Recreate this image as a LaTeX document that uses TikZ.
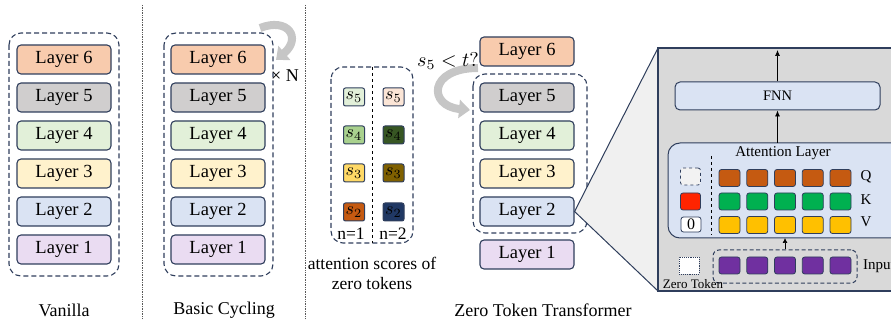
\documentclass[tikz,border=0pt]{standalone}
\usepackage{graphicx}
\usepackage{fontspec}
\setmainfont{Liberation Serif}
\usetikzlibrary{arrows.meta}
\definecolor{navy}{HTML}{2F3E5C}
\definecolor{cL6}{HTML}{F8CBAD}
\definecolor{cL5}{HTML}{D0CECE}
\definecolor{cL4}{HTML}{E2F0D9}
\definecolor{cL3}{HTML}{FFF2CC}
\definecolor{cL2}{HTML}{DAE3F3}
\definecolor{cL1}{HTML}{EADCF2}
\definecolor{sA5}{HTML}{E2F0D9}
\definecolor{sA4}{HTML}{A9D18E}
\definecolor{sA3}{HTML}{FFD966}
\definecolor{sA2}{HTML}{C55A11}
\definecolor{sB5}{HTML}{FBE5D6}
\definecolor{sB4}{HTML}{375623}
\definecolor{sB3}{HTML}{7F6000}
\definecolor{sB2}{HTML}{203864}
\definecolor{cQ}{HTML}{C55A11}
\definecolor{cK}{HTML}{00B050}
\definecolor{cV}{HTML}{FFC000}
\definecolor{cRed}{HTML}{FF2400}
\definecolor{cPur}{HTML}{7030A0}
\definecolor{panel}{HTML}{D9D9D9}
\definecolor{zoomfill}{HTML}{F0F0F0}
\newcommand{\sv}[1]{\scalebox{1.8}{$s_{#1}$}}
\tikzset{
  layer/.style={draw=navy, line width=1.1pt, rounded corners=4pt, minimum width=94pt,
    minimum height=29pt, inner sep=0pt, font=\fontsize{18.5}{20}\selectfont},
  grp/.style={draw=navy, line width=1.1pt, dash pattern=on 5pt off 3pt, rounded corners=12pt},
  sbox/.style={draw=navy, line width=1pt, rounded corners=2pt, minimum width=21pt,
    minimum height=18pt, inner sep=0pt},
  cell/.style={draw=navy, line width=0.8pt, rounded corners=2.5pt, minimum width=21pt,
    minimum height=17pt, inner sep=0pt},
  lbl/.style={font=\fontsize{18}{20}\selectfont, inner sep=0pt},
  small/.style={font=\fontsize{15}{16}\selectfont, inner sep=0pt},
  sep/.style={draw=gray!70!black, line width=0.7pt, densely dotted},
  bigarrow/.style={line width=8pt, draw=gray!45, -{Triangle[length=11pt,width=18pt]}},
  arr/.style={draw=black, line width=0.7pt, -{Latex[length=6pt,width=5pt]}},
}
\begin{document}
\begin{tikzpicture}[x=1pt,y=-1pt]
\useasboundingbox (0,0) rectangle (891,320);
\clip (0,0) rectangle (891,320);

% separators
\draw[sep] (142,5) -- (142,320);
\draw[sep] (305,5) -- (305,320);

% ---------- Vanilla ----------
\draw[grp] (9,33) rectangle (119,276);
\node[layer, fill=cL6] (v6) at (64,59.5) {Layer 6};
\node[layer, fill=cL5] (v5) at (64,97.5) {Layer 5};
\node[layer, fill=cL4] (v4) at (64,135.5) {Layer 4};
\node[layer, fill=cL3] (v3) at (64,173.5) {Layer 3};
\node[layer, fill=cL2] (v2) at (64,211.5) {Layer 2};
\node[layer, fill=cL1] (v1) at (64,249.5) {Layer 1};
\node[lbl] (vlab) at (64,310) {Vanilla};

% ---------- Basic Cycling ----------
\draw[grp] (164,33) rectangle (273,276);
\node[layer, fill=cL6] (b6) at (218,59.5) {Layer 6};
\node[layer, fill=cL5] (b5) at (218,97.5) {Layer 5};
\node[layer, fill=cL4] (b4) at (218,135.5) {Layer 4};
\node[layer, fill=cL3] (b3) at (218,173.5) {Layer 3};
\node[layer, fill=cL2] (b2) at (218,211.5) {Layer 2};
\node[layer, fill=cL1] (b1) at (218,249.5) {Layer 1};
\node[lbl] (blab) at (224,310) {Basic Cycling};
\coordinate (bc1) at (260,28);
\coordinate (bc2) at (276,60);
\draw[bigarrow] (bc1) .. controls (288,17) and (302,38) .. (bc2);
\node[lbl, anchor=west] (timesN) at (271,76) {× N};

% ---------- attention scores ----------
\draw[grp] (331,67) rectangle (413,243);
\draw[black, line width=0.6pt, dashed] (372,67) -- (372,243);
\node[sbox, fill=sA5] (a5) at (354,97) {\sv{5}};
\node[sbox, fill=sA4] (a4) at (354,135) {\sv{4}};
\node[sbox, fill=sA3] (a3) at (354,173) {\sv{3}};
\node[sbox, fill=sA2] (a2) at (354,212) {\sv{2}};
\node[sbox, fill=sB5] (c5) at (393.5,97) {\sv{5}};
\node[sbox, fill=sB4] (c4) at (393.5,135) {\sv{4}};
\node[sbox, fill=sB3] (c3) at (393.5,173) {\sv{3}};
\node[sbox, fill=sB2] (c2) at (393.5,212) {\sv{2}};
\node[lbl, font=\fontsize{17.5}{19}\selectfont] (n1) at (351,234) {n=1};
\node[lbl, font=\fontsize{17.5}{19}\selectfont] (n2) at (393,234) {n=2};
\node[lbl, font=\fontsize{17.5}{19}\selectfont] (as1) at (372,263) {attention scores of};
\node[lbl, font=\fontsize{17.5}{19}\selectfont] (as2) at (372,284) {zero tokens};

% ---------- Zero Token Transformer ----------
\coordinate (zc1) at (478,68);
\coordinate (zc2) at (470,110);
\draw[bigarrow] (zc1) .. controls (428,68) and (428,106) .. (zc2);
\node[inner sep=0pt] (cond) at (448,61) {\scalebox{2}{$s_5 < t?$}};
\draw[grp] (473,74) rectangle (587,233);
\node[layer, fill=cL6] (z6) at (527,51.5) {Layer 6};
\node[layer, fill=cL5] (z5) at (527,97.5) {Layer 5};
\node[layer, fill=cL4] (z4) at (527,135.5) {Layer 4};
\node[layer, fill=cL3] (z3) at (527,173.5) {Layer 3};
\node[layer, fill=cL2] (z2) at (527,211.5) {Layer 2};
\node[layer, fill=cL1] (z1) at (527,254.5) {Layer 1};
\node[lbl] (zlab) at (543,310) {Zero Token Transformer};

% ---------- zoom panel ----------
\coordinate (pTL) at (658,48);
\coordinate (pBL) at (658,291);
\fill[zoomfill] (z2.east) -- (pTL) -- (pBL) -- cycle;
\draw[navy, line width=1pt] (pTL) -- (z2.east) -- (pBL);
\draw[navy, line width=1.2pt, fill=panel] (658,48) rectangle (900,291);

\node[draw=navy, line width=1pt, fill=cL2, rounded corners=5pt, minimum width=205pt,
  minimum height=28pt, inner sep=0pt, font=\fontsize{14.5}{16}\selectfont] (fnn) at (777.5,96) {FNN};
\coordinate (top) at (777.5,50);
\draw[arr] (fnn.north) -- (top);

\draw[navy, line width=1pt, fill=cL2, rounded corners=12pt] (668,143) rectangle (905,238);
\coordinate (attN) at (777.5,143);
\coordinate (attS) at (785,238);
\draw[arr] (attN) -- (fnn.south);
\node[small] (atttitle) at (783,153) {Attention Layer};
\draw[black, line width=0.6pt, dashed] (711,156) -- (711,235);

\node[cell, fill=gray!10, dashed, minimum width=20pt] (zq) at (690.5,176.5) {};
\node[cell, fill=cRed, minimum width=20pt] (zk) at (690.5,201.5) {};
\node[cell, fill=white, minimum width=20pt, minimum height=15pt, font=\fontsize{16}{16}\selectfont] (zv) at (691,224.5) {0};

\foreach \i in {0,...,4}{
  \pgfmathsetmacro{\cx}{729.5+27.75*\i}
  \node[cell, fill=cQ] (q\i) at (\cx,178) {};
  \node[cell, fill=cK] (k\i) at (\cx,201.5) {};
  \node[cell, fill=cV] (v\i) at (\cx,225) {};
  \node[cell, fill=cPur] (in\i) at (\cx,265.5) {};
}
\node[small] (lq) at (866,177) {Q};
\node[small] (lk) at (866,200) {K};
\node[small] (lv) at (866,222) {V};

\node[draw=navy, line width=1pt, dash pattern=on 4pt off 2.5pt, rounded corners=6pt,
  minimum width=144pt, minimum height=33pt, inner sep=0pt] (inp) at (785,266.5) {};
\draw[arr, -{Latex[length=5pt,width=5pt]}] (inp.north) -- (attS);
\node[small, anchor=west] (inlab) at (863,266) {Input};

\node[draw=navy, line width=0.9pt, densely dotted, fill=white, minimum width=20pt,
  minimum height=17pt, inner sep=0pt] (zt) at (689,265.5) {};
\node[font=\fontsize{13}{14}\selectfont, inner sep=0pt] (ztlab) at (693,284) {Zero Token};
\end{tikzpicture}
\end{document}
